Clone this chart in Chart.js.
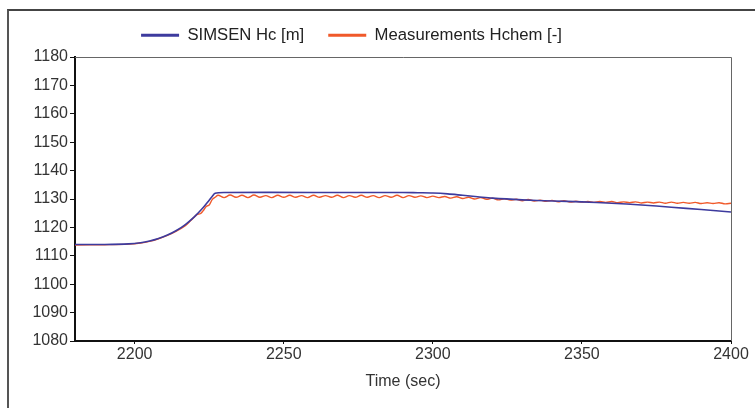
<!DOCTYPE html>
<html>
<head>
<meta charset="utf-8">
<script src="https://cdn.jsdelivr.net/npm/chart.js@4.4.1/dist/chart.umd.min.js"></script>
<style>
  html, body { margin: 0; padding: 0; background: #ffffff; }
  #wrap { position: relative; width: 755px; height: 408px; overflow: hidden; }
  #frame { position: absolute; left: 7px; top: 9px; width: 800px; height: 450px; border-left: 2px solid #555; border-top: 2px solid #444; }
  canvas { position: absolute; left: 0; top: 0; }
</style>
</head>
<body>
<div id="wrap">
  <div id="frame"></div>
  <canvas id="c" width="755" height="408"></canvas>
</div>
<script>
// ---- data ----
const seriesNames = ["SIMSEN Hc [m]", "Measurements Hchem [-]"];
const xTitle = "Time (sec)";
const xTickValues = [2200, 2250, 2300, 2350, 2400];
const yTickValues = [1080, 1090, 1100, 1110, 1120, 1130, 1140, 1150, 1160, 1170, 1180];

const simTime = [2180, 2190, 2198, 2202, 2205, 2208, 2211, 2214, 2217, 2220, 2223, 2225, 2226, 2227, 2230, 2260, 2290, 2295, 2300, 2305, 2310, 2315, 2320, 2330, 2340, 2350, 2360, 2370, 2380, 2390, 2400];
const simHc   = [1114.0, 1114.0, 1114.2, 1114.6, 1115.2, 1116.1, 1117.3, 1118.9, 1121.0, 1123.7, 1127.0, 1129.6, 1130.9, 1132.0, 1132.3, 1132.3, 1132.3, 1132.2, 1132.1, 1131.8, 1131.3, 1130.8, 1130.3, 1129.7, 1129.3, 1129.0, 1128.5, 1127.9, 1127.1, 1126.3, 1125.4];

const measTime = [2180, 2190, 2198, 2202, 2205, 2208, 2211, 2214, 2217, 2219, 2221, 2222, 2223, 2224, 2225, 2226, 2227,
  2228, 2230, 2232, 2234, 2236, 2238, 2240, 2242, 2244, 2246, 2248, 2250, 2252, 2254, 2256, 2258, 2260, 2262, 2264, 2266, 2268, 2270, 2272, 2274, 2276, 2278, 2280, 2282, 2284, 2286, 2288, 2290, 2292, 2294, 2296, 2298, 2300,
  2302, 2304, 2306, 2308, 2310, 2312, 2314, 2316, 2318, 2320, 2322, 2324, 2326, 2328, 2330, 2332, 2334, 2336, 2338, 2340, 2342, 2344, 2346, 2348, 2350,
  2352, 2354, 2356, 2358, 2360, 2362, 2364, 2366, 2368, 2370, 2372, 2374, 2376, 2378, 2380, 2382, 2384, 2386, 2388, 2390, 2392, 2394, 2396, 2398, 2400];
const measHchem = [1113.8, 1113.9, 1114.1, 1114.5, 1115.1, 1116.0, 1117.2, 1118.7, 1120.6, 1122.6, 1124.6, 1124.8, 1125.9, 1127.4, 1127.9, 1129.8, 1130.6,
  1131.3, 1130.5, 1131.4, 1130.6, 1131.3, 1130.5, 1131.4, 1130.6, 1131.2, 1130.5, 1131.3, 1130.6, 1131.3, 1130.6, 1131.2, 1130.5, 1131.3, 1130.6, 1131.2, 1130.6, 1131.3, 1130.5, 1131.2, 1130.6, 1131.3, 1130.6, 1131.2, 1130.5, 1131.2, 1130.6, 1131.3, 1130.5, 1131.2, 1130.6, 1131.1, 1130.5, 1131.0,
  1130.5, 1130.9, 1130.3, 1130.8, 1130.2, 1130.6, 1130.0, 1130.5, 1129.9, 1130.3, 1129.7, 1130.1, 1129.6, 1129.9, 1129.4, 1129.8, 1129.3, 1129.6, 1129.2, 1129.5, 1129.0, 1129.4, 1128.9, 1129.2, 1128.9,
  1129.1, 1128.8, 1129.1, 1128.8, 1129.1, 1128.7, 1129.0, 1128.7, 1129.0, 1128.6, 1128.9, 1128.6, 1128.9, 1128.5, 1128.9, 1128.5, 1128.8, 1128.5, 1128.8, 1128.4, 1128.7, 1128.4, 1128.7, 1128.3, 1128.5];

const seriesColors = ["#3d3b9e", "#f0592a"];
// ---- chart ----
const FONT = "'Liberation Sans', Arial, sans-serif";

const framePlugin = {
  id: 'plotFrame',
  afterDatasetsDraw(chart) {
    const a = chart.chartArea, ctx = chart.ctx;
    ctx.save();
    ctx.strokeStyle = '#666';
    ctx.lineWidth = 1;
    ctx.beginPath();
    ctx.moveTo(a.left, a.top + 0.5);
    ctx.lineTo(a.right + 0.5, a.top + 0.5);
    ctx.lineTo(a.right + 0.5, a.bottom);
    ctx.stroke();
    ctx.restore();
  }
};
const legendShift = {
  id: 'legendShift',
  beforeInit(chart) {
    const lg = chart.legend;
    const orig = lg.fit;
    lg.fit = function () { orig.call(this); this.height = 57; };
  },
  afterLayout(chart) {
    chart.legend.left -= 14;
    chart.legend.right -= 14;
    chart.legend.top += 3;
    chart.legend.bottom += 3;
  }
};

new Chart(document.getElementById('c'), {
  type: 'line',
  data: {
    datasets: [
      { label: seriesNames[0], data: simTime.map((t, i) => ({ x: t, y: simHc[i] })),
        borderColor: seriesColors[0], backgroundColor: seriesColors[0], borderWidth: 1.6, pointRadius: 0, tension: 0.3 },
      { label: seriesNames[1], data: measTime.map((t, i) => ({ x: t, y: measHchem[i] })),
        borderColor: seriesColors[1], backgroundColor: seriesColors[1], borderWidth: 1.4, pointRadius: 0, tension: 0.35 }
    ]
  },
  options: {
    responsive: false,
    animation: false,
    layout: { padding: { left: 0, right: 24, top: 0, bottom: 0 } },
    plugins: {
      tooltip: { enabled: false },
      legend: {
        position: 'top',
        align: 'center',
        labels: {
          boxWidth: 38, boxHeight: 3, padding: 24,
          color: '#222',
          font: { family: FONT, size: 16.7 },
          generateLabels(chart) {
            const items = Chart.defaults.plugins.legend.labels.generateLabels(chart);
            items.forEach(it => { it.lineWidth = 0; it.fillStyle = it.strokeStyle; });
            return items;
          }
        }
      }
    },
    scales: {
      x: {
        type: 'linear', min: 2180, max: 2400,
        afterBuildTicks(s) { s.ticks = xTickValues.map(v => ({ value: v })); },
        afterFit(s) { s.height = 408 - 341; },
        border: { display: true, color: '#111', width: 2 },
        grid: { drawOnChartArea: false, tickLength: 3, color: '#111' },
        ticks: { color: '#333', font: { family: FONT, size: 16 }, padding: 1, maxRotation: 0, autoSkip: false,
                 callback: v => String(v) },
        title: { display: true, text: xTitle, color: '#333', font: { family: FONT, size: 16 }, padding: { top: 2, bottom: 17 } }
      },
      y: {
        type: 'linear', min: 1080, max: 1180,
        afterBuildTicks(s) { s.ticks = yTickValues.map(v => ({ value: v })); },
        afterFit(s) { s.width = 75; },
        border: { display: true, color: '#111', width: 2 },
        grid: { drawOnChartArea: false, tickLength: 5, color: '#111' },
        ticks: { color: '#333', font: { family: FONT, size: 16 }, padding: 2, callback: v => String(v) }
      }
    }
  },
  plugins: [framePlugin, legendShift]
});
</script>
</body>
</html>
